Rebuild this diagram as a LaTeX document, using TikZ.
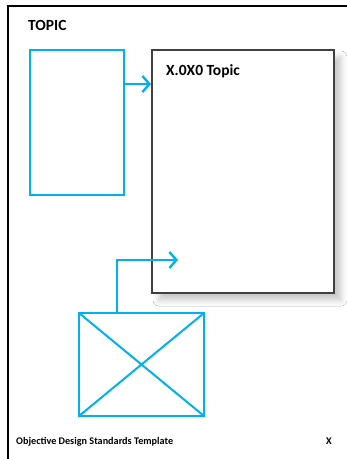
\documentclass[tikz,border=0pt]{standalone}
\usepackage{fontspec}
\setmainfont{Carlito}
\usetikzlibrary{arrows.meta,shadows.blur}
\definecolor{wire}{HTML}{00B0F0}
\tikzset{
  wirebox/.style={draw=wire, line width=2.4pt},
  wireline/.style={draw=wire, line width=2.4pt, -{Straight Barb[length=7pt,width=16pt,line width=2.4pt]}},
  pagebox/.style={draw=black!75, line width=1.3pt, fill=white,
    blur shadow={shadow xshift=7pt, shadow yshift=-7pt, shadow blur radius=6pt, shadow opacity=22}},
  heading/.style={font=\bfseries\fontsize{15.5}{17}\selectfont, anchor=base west, inner sep=0pt},
  footer/.style={font=\bfseries\fontsize{10.2}{11}\selectfont, anchor=base west, inner sep=0pt}
}
\begin{document}
\begin{tikzpicture}[x=1pt, y=-1pt]
\useasboundingbox (0,0) rectangle (347,459);
\fill[white] (0,0) rectangle (347,459);
% page frame (left and top edges)
\draw[line width=2pt] (8,470) -- (8,6) -- (360,6);
\node[heading] (title) at (28,30) {TOPIC};
% screen placeholder
\draw[wirebox] (30,50) rectangle (124,195);
\coordinate (srcA) at (124,84);
% content page
\path[pagebox] (152,50) rectangle (334,293);
\node[heading] (pagetitle) at (166,75) {X.0X0 Topic};
\coordinate (dstA) at (151,84);
\draw[wireline] (srcA) -- (dstA);
% image placeholder
\draw[wirebox] (79,313) rectangle (204,416);
\draw[wire, line width=2pt] (79,313) -- (204,416) (79,416) -- (204,313);
\coordinate (srcB) at (117,313);
\coordinate (dstB) at (178,260);
\draw[wireline] (srcB) |- (dstB);
% footer
\node[footer] (foot) at (16,444) {Objective Design Standards Template};
\node[footer] (pagenum) at (326,444) {X};
\end{tikzpicture}
\end{document}
